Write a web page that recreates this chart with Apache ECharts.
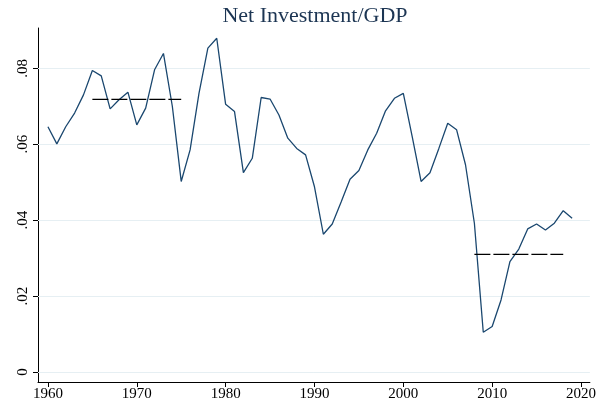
<!DOCTYPE html>
<html>
<head>
<meta charset="utf-8">
<script src="https://cdn.jsdelivr.net/npm/echarts@6/dist/echarts.min.js"></script>
<style>
  html, body { margin: 0; padding: 0; background: #fff; }
  #chart { width: 599px; height: 412px; }
</style>
</head>
<body>
<div id="chart"></div>
<script>
const years = []
for (let y = 1960; y <= 2019; y++) years.push(y)

const netInvestment = [
  0.0646, 0.0601, 0.0646, 0.0682, 0.0730, 0.0794, 0.0780, 0.0693, 0.0717, 0.0737,
  0.0651, 0.0695, 0.0796, 0.0839, 0.0700, 0.0502, 0.0585, 0.0734, 0.0853, 0.0879,
  0.0705, 0.0686, 0.0525, 0.0563, 0.0723, 0.0719, 0.0677, 0.0616, 0.0589, 0.0572,
  0.0488, 0.0363, 0.0390, 0.0448, 0.0508, 0.0531, 0.0585, 0.0629, 0.0688, 0.0721,
  0.0734, 0.0620, 0.0502, 0.0525, 0.0589, 0.0655, 0.0638, 0.0546, 0.0392, 0.0105,
  0.0120, 0.0190, 0.0291, 0.0324, 0.0377, 0.0390, 0.0374, 0.0392, 0.0425, 0.0405
]

// period averages (dashed)
const avgEarlyYears = [1965, 1975]
const avgEarly = 0.0718
const avgLateYears = [2008, 2018]
const avgLate = 0.0310

const xTicks = [1960, 1970, 1980, 1990, 2000, 2010, 2020]
const yTicks = [0, 0.02, 0.04, 0.06, 0.08]
const yTickLabels = ['0', '.02', '.04', '.06', '.08']

const serif = '"Liberation Serif", "DejaVu Serif", serif'

const chart = echarts.init(document.getElementById('chart'))

const option = {
  animation: false,
  title: {
    text: 'Net Investment/GDP',
    left: 310,
    top: 0,
    textAlign: 'center',
    textStyle: {
      fontFamily: serif,
      fontSize: 22,
      fontWeight: 'normal',
      color: '#1c3553'
    }
  },
  grid: {
    left: 38,
    right: 7,
    top: 28,
    bottom: 30
  },
  xAxis: {
    type: 'value',
    min: 1958.88,
    max: 2021,
    axisLine: { show: true, onZero: false, lineStyle: { color: '#000', width: 1 } },
    axisTick: { show: true, customValues: xTicks, length: 5, lineStyle: { color: '#000' } },
    axisLabel: {
      customValues: xTicks,
      fontFamily: serif,
      fontSize: 15,
      color: '#000',
      margin: 5,
      formatter: v => String(v)
    },
    splitLine: { show: false }
  },
  yAxis: {
    type: 'value',
    min: -0.0026,
    max: 0.0906,
    axisLine: { show: true, onZero: false, lineStyle: { color: '#000', width: 1 } },
    axisTick: { show: true, customValues: yTicks, length: 5, lineStyle: { color: '#000' } },
    axisLabel: {
      customValues: yTicks,
      rotate: 90,
      fontFamily: serif,
      fontSize: 15,
      color: '#000',
      margin: 7,
      formatter: v => yTickLabels[yTicks.findIndex(t => Math.abs(t - v) < 1e-9)] ?? ''
    },
    splitLine: { show: false }
  },
  series: [
    {
      type: 'line',
      data: years.map((y, i) => [y, netInvestment[i]]),
      showSymbol: false,
      lineStyle: { color: '#1a476f', width: 1.3 },
      z: 3,
      markLine: {
        silent: true,
        symbol: 'none',
        label: { show: false },
        lineStyle: { color: '#e6eff3', type: 'solid', width: 1 },
        data: yTicks.map(v => ({ yAxis: v })),
        z: 1
      }
    },
    {
      type: 'line',
      data: avgEarlyYears.map(y => [y, avgEarly]),
      showSymbol: false,
      lineStyle: { color: '#000', width: 1.3, type: [16, 3] },
      z: 4
    },
    {
      type: 'line',
      data: avgLateYears.map(y => [y, avgLate]),
      showSymbol: false,
      lineStyle: { color: '#000', width: 1.3, type: [16, 3] },
      z: 4
    }
  ]
}

chart.setOption(option)
</script>
</body>
</html>
